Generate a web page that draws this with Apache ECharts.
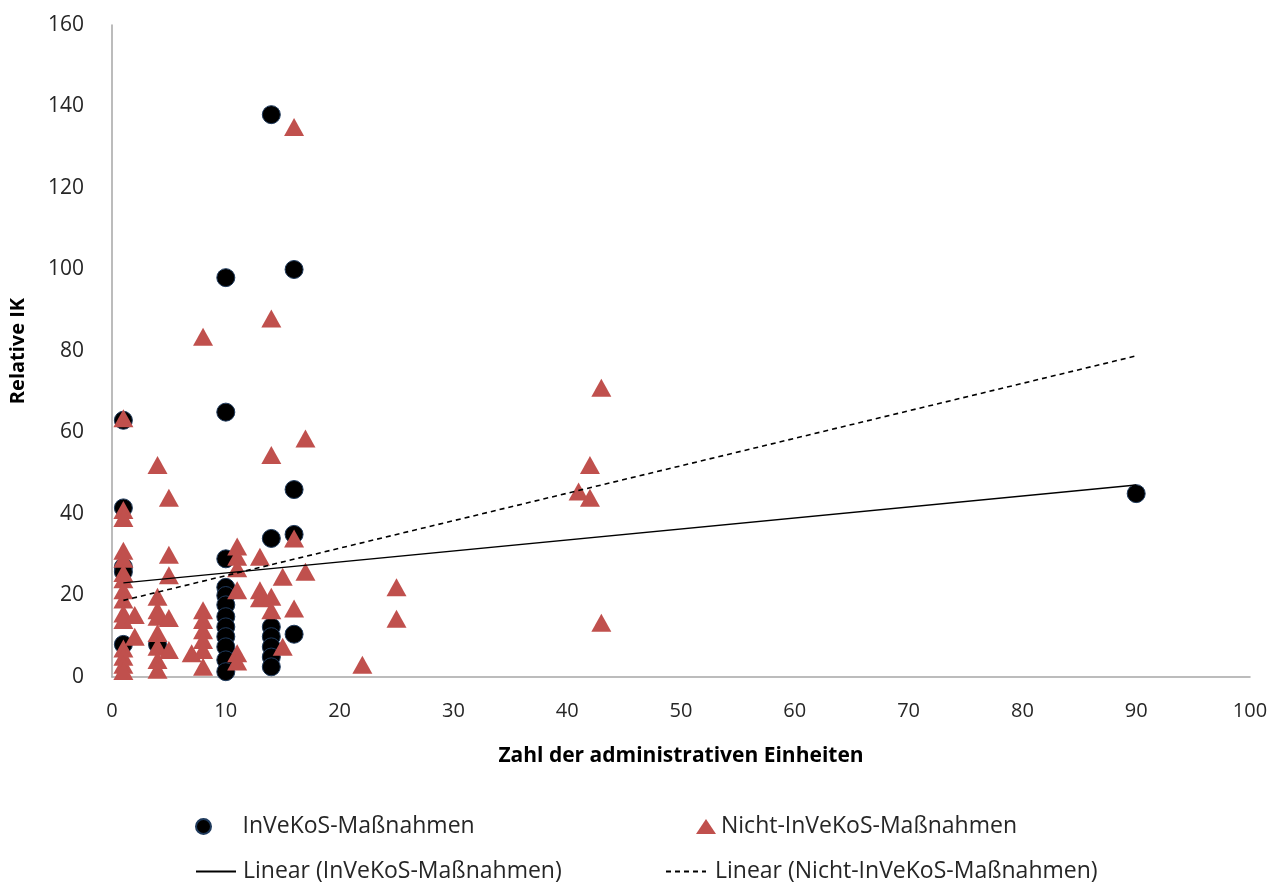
<!DOCTYPE html>
<html>
<head>
<meta charset="utf-8">
<script src="https://cdn.jsdelivr.net/npm/echarts@6/dist/echarts.min.js"></script>
<style>
html,body{margin:0;padding:0;background:#fff;}
#chart{width:1284px;height:886px;}
</style>
</head>
<body>
<div id="chart"></div>
<script>
// ---- data ----
const seriesNames = ['InVeKoS-Maßnahmen', 'Nicht-InVeKoS-Maßnahmen',
  'Linear (InVeKoS-Maßnahmen)', 'Linear (Nicht-InVeKoS-Maßnahmen)'];

const invekosX = [1, 1, 1, 1, 1, 4,
  10, 10, 10, 10, 10, 10, 10, 10, 10, 10, 10, 10,
  14, 14, 14, 14, 14, 14, 14,
  16, 16, 16, 16, 90];
const invekosY = [63, 41.5, 27, 25.8, 8, 8,
  98, 65, 29, 22, 20, 17.7, 14.8, 12.3, 9.9, 7.4, 4.2, 1.3,
  138, 34, 12.3, 9.9, 7.4, 4.9, 2.5,
  100, 46, 35, 10.5, 45];

const nichtX = [1, 1, 1, 1, 1, 1, 1, 1, 1, 1, 1, 1, 1, 1, 1,
  2, 2,
  4, 4, 4, 4, 4, 4, 4, 4,
  5, 5, 5, 5, 5,
  7,
  8, 8, 8, 8, 8, 8, 8,
  11, 11, 11, 11, 11, 11,
  13, 13, 13,
  14, 14, 14, 14,
  15, 15,
  16, 16, 16,
  17, 17,
  22, 25, 25, 41, 42, 42, 43, 43];
const nichtY = [63.5, 41, 39, 31, 29, 25.5, 24, 21.3, 19, 15.6, 14, 7, 5, 3, 1.5,
  15.2, 9.9,
  52, 19.7, 16.4, 14.8, 10.8, 7.4, 4.2, 1.8,
  44, 30, 25, 14.5, 6.6,
  5.8,
  83.5, 16.4, 14, 11.5, 9.1, 6.6, 2.5,
  32, 29.5, 26.7, 21.3, 5.8, 3.8,
  29.5, 21.3, 19.3,
  88, 54.5, 19.7, 16.4,
  24.6, 7.4,
  135, 34, 16.8,
  58.5, 25.8,
  3, 22, 14.3, 45.5, 52, 44, 71, 13.3];

// trend lines (as drawn in the reference)
const trendInvekosX = [1, 90];
const trendInvekosY = [23.1, 47.1];
const trendNichtX = [1, 90];
const trendNichtY = [18.8, 78.8];

const xTicks = {min: 0, max: 100, interval: 10};
const yTicks = {min: 0, max: 160, interval: 20};

const zip = (xs, ys) => xs.map((x, i) => [x, ys[i]]);

const font = 'Open Sans, Noto Sans, sans-serif';
const chart = echarts.init(document.getElementById('chart'), null, {renderer: 'canvas'});

const legendText = {fontFamily: font, fontSize: 23, color: '#262626'};

chart.setOption({
  backgroundColor: '#ffffff',
  animation: false,
  grid: {left: 112, right: 34, top: 25, bottom: 209, containLabel: false, outerBoundsMode: 'none'},
  xAxis: {
    type: 'value', min: xTicks.min, max: xTicks.max, interval: xTicks.interval,
    name: 'Zahl der administrativen Einheiten', nameLocation: 'middle', nameGap: 69,
    nameTextStyle: {fontFamily: font, fontSize: 21, fontWeight: 'bold', color: '#000'},
    axisLine: {lineStyle: {color: '#a6a6a6', width: 1.5}},
    axisTick: {show: false},
    splitLine: {show: false},
    axisLabel: {fontFamily: font, fontSize: 20, color: '#262626', margin: 24}
  },
  yAxis: {
    type: 'value', min: yTicks.min, max: yTicks.max, interval: yTicks.interval,
    name: 'Relative IK', nameLocation: 'middle', nameGap: 84, nameRotate: 90,
    nameTextStyle: {fontFamily: font, fontSize: 20, fontWeight: 'bold', color: '#000'},
    axisLine: {show: true, lineStyle: {color: '#a6a6a6', width: 1.5}},
    axisTick: {show: false},
    splitLine: {show: false},
    axisLabel: {fontFamily: font, fontSize: 21, color: '#262626', margin: 28}
  },
  legend: [
    {data: [seriesNames[0]], left: 190, top: 810, itemWidth: 40, itemHeight: 15,
     textStyle: Object.assign({padding: [0, 0, 0, 14]}, legendText)},
    {data: [seriesNames[1]], left: 691, top: 810, itemWidth: 20, itemHeight: 15,
     textStyle: legendText},
    {data: [seriesNames[2]], left: 190, top: 855, itemWidth: 40, itemHeight: 14,
     itemStyle: {opacity: 0}, textStyle: Object.assign({padding: [0, 0, 0, 2]}, legendText)},
    {data: [seriesNames[3]], left: 660, top: 855, itemWidth: 40, itemHeight: 14,
     itemStyle: {opacity: 0}, textStyle: Object.assign({padding: [0, 0, 0, 4]}, legendText)}
  ],
  series: [
    {
      name: seriesNames[0], type: 'scatter', symbol: 'circle', symbolSize: 18,
      itemStyle: {color: '#000000', borderColor: '#1f3a5c', borderWidth: 1, opacity: 1},
      data: zip(invekosX, invekosY), z: 2
    },
    {
      name: seriesNames[1], type: 'scatter', symbol: 'triangle', symbolSize: [20, 18],
      itemStyle: {color: '#c0504d', opacity: 1},
      data: zip(nichtX, nichtY), z: 3
    },
    {
      name: seriesNames[2], type: 'line', symbol: 'none', showSymbol: false,
      lineStyle: {color: '#000000', width: 1.4, type: 'solid'},
      itemStyle: {color: '#000000'},
      data: zip(trendInvekosX, trendInvekosY), z: 4
    },
    {
      name: seriesNames[3], type: 'line', symbol: 'none', showSymbol: false,
      lineStyle: {color: '#000000', width: 1.6, type: [5, 4]},
      itemStyle: {color: '#000000'},
      data: zip(trendNichtX, trendNichtY), z: 4
    }
  ]
});
</script>
</body>
</html>
